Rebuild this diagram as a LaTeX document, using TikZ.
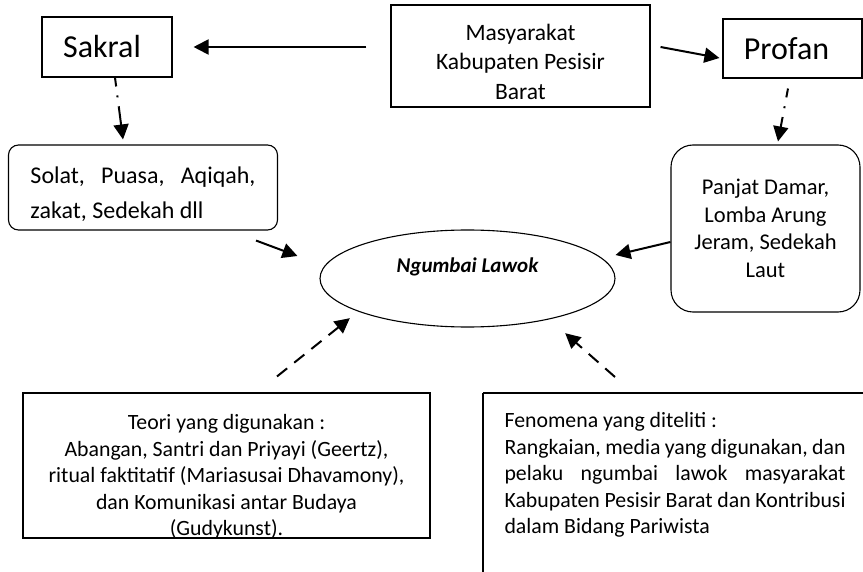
\documentclass[tikz,border=0pt]{standalone}
\usepackage{fontspec}
\setmainfont{Carlito}
\usetikzlibrary{arrows.meta,shapes.geometric}
\tikzset{>={Triangle[length=15pt,width=15pt]}}

\begin{document}
\begin{tikzpicture}[x=1pt, y=-1pt, line width=1.1pt,
    kotak/.style={draw, align=center, inner sep=0pt},
    teks/.style={font=\fontsize{21.8}{26.5}\selectfont},
    panah/.style={->, line width=2pt},
    titik/.style={panah, dash pattern=on 9pt off 9pt on 2pt off 9pt on 40pt off 1pt},
    putus/.style={panah, dash pattern=on 13pt off 9pt}]
    \useasboundingbox (0,0) rectangle (863,572);
    % kotak atas
    \node[kotak, minimum width=130pt, minimum height=60pt, font=\fontsize{32}{38}\selectfont] (sakral) at (107,47) {Sakral\hspace*{10pt}};
    \node[kotak, minimum width=259pt, minimum height=102pt, font=\fontsize{23.5}{29.5}\selectfont] (masy) at (520.5,56) {\rule{0pt}{28pt}Masyarakat\\Kabupaten Pesisir\\Barat};
    \node[kotak, minimum width=139pt, minimum height=59pt, font=\fontsize{32}{38}\selectfont] (profan) at (792.5,48.5) {Profan\hspace*{12pt}};
    % kotak tengah
    \node[kotak, rounded corners=10pt, minimum width=268pt, minimum height=85pt, align=flush left, text width=225pt, inner xsep=22pt, font=\fontsize{24}{35}\selectfont] (solat) at (143,187.5) {\rule{0pt}{30pt}\makebox[\linewidth][s]{Solat, Puasa, Aqiqah,}\\zakat, Sedekah dll};
    \node[kotak, rounded corners=22pt, minimum width=189pt, minimum height=167pt, font=\fontsize{22.5}{27.5}\selectfont] (panjat) at (765.5,228.5) {Panjat Damar,\\Lomba Arung\\Jeram, Sedekah\\Laut};
    \node[draw, ellipse, minimum width=295pt, minimum height=97pt, inner sep=0pt] (ngumbai) at (467.5,278.5) {};
    \node[font=\fontsize{21}{25}\selectfont\bfseries\itshape] (judul) at (467.5,267) {Ngumbai Lawok};
    % kotak bawah
    \node[draw, minimum width=407pt, minimum height=145pt] (teori) at (226.5,465.5) {};
    \node[align=center, inner sep=0pt, teks] (teoritxt) at (226.5,477) {Teori yang digunakan :\\Abangan, Santri dan Priyayi (Geertz),\\ritual faktitatif (Mariasusai Dhavamony),\\dan Komunikasi antar Budaya\\(Gudykunst).};
    \node[anchor=north west, align=flush left, text width=341pt, inner xsep=21pt, inner ysep=19pt, teks] (fen) at (483,393) {Fenomena yang diteliti :\\\makebox[\linewidth][s]{Rangkaian, media yang digunakan, dan}\\\makebox[\linewidth][s]{pelaku ngumbai lawok masyarakat}\\\makebox[\linewidth][s]{Kabupaten Pesisir Barat dan Kontribusi}\\dalam Bidang Pariwista};
    \draw (fen.north west) -- ++(0,200) (fen.north west) -- ++(420,0);
    % panah
    \draw[panah, shorten <=24pt, shorten >=21pt] (masy.west |- sakral.east) -- (sakral.east);
    \draw[panah] ([shift={(10,-9)}]masy.east) -- ([shift={(-3,9.5)}]profan.west);
    \draw[titik] ([xshift=8pt]sakral.south) -- ([shift={(-20,-5)}]solat.north);
    \draw[titik] ([shift={(-4.5,10)}]profan.south) -- ([shift={(12.5,-3)}]panjat.north);
    \draw[panah] ([shift={(-22,10)}]solat.south east) -- ([shift={(-22,-22.5)}]ngumbai.west);
    \draw[panah] ([yshift=-13.5pt]panjat.west) -- ([shift={(0,-23.5)}]ngumbai.east);
    \draw[putus] ([shift={(50.5,-16)}]teori.north) -- ([shift={(-13,5)}]ngumbai.south west);
    \draw[putus] ([shift={(132,-16)}]fen.north west) -- ([shift={(-7,20)}]ngumbai.south east);
\end{tikzpicture}
\end{document}
